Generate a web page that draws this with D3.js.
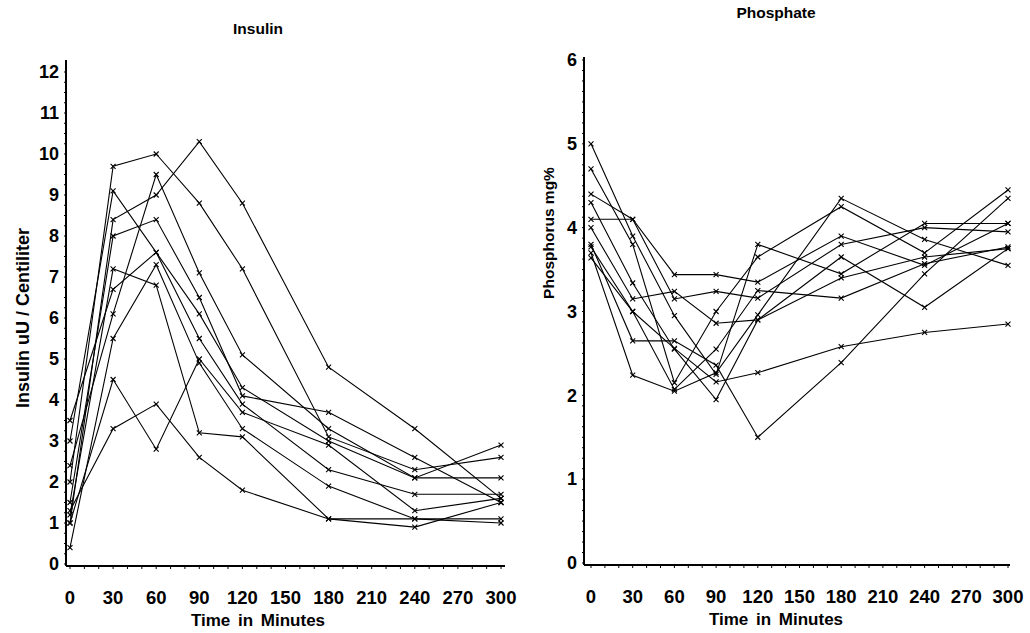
<!DOCTYPE html>
<html>
<head>
<meta charset="utf-8">
<script src="https://cdn.jsdelivr.net/npm/d3@7"></script>
<style>
  body { margin: 0; background: #fff; }
  svg text { font-family: "Liberation Sans", Arial, sans-serif; font-weight: bold; fill: #000; }
</style>
</head>
<body>
<div id="chart"></div>
<script>
// time points shared by both panels
const times = [0, 30, 60, 90, 120, 180, 240, 300];
const xTicks = [0, 30, 60, 90, 120, 150, 180, 210, 240, 270, 300];

// insulin uU / centiliter, one array per subject
const insulin1 = [1.0, 8.4, 9.0, 10.3, 8.8, 4.8, 3.3, 1.6];
const insulin2 = [2.0, 9.7, 10.0, 8.8, 7.2, 3.1, 2.3, 2.6];
const insulin3 = [3.0, 9.1, 7.6, 6.1, 4.3, 3.0, 2.1, 2.1];
const insulin4 = [1.5, 8.0, 8.4, 6.5, 4.1, 3.7, 2.6, 1.5];
const insulin5 = [2.4, 6.1, 9.5, 7.1, 5.1, 3.3, 2.1, 2.9];
const insulin6 = [3.5, 6.7, 7.6, 5.5, 3.9, 2.3, 1.7, 1.7];
const insulin7 = [1.2, 7.2, 6.8, 3.2, 3.1, 1.1, 0.9, 1.5];
const insulin8 = [1.0, 4.5, 2.8, 5.0, 3.7, 2.9, 1.3, 1.6];
const insulin9 = [1.3, 3.3, 3.9, 2.6, 1.8, 1.1, 1.1, 1.0];
const insulin10 = [0.4, 5.5, 7.3, 4.9, 3.3, 1.9, 1.1, 1.1];
const insulinSeries = [insulin1, insulin2, insulin3, insulin4, insulin5,
  insulin6, insulin7, insulin8, insulin9, insulin10];
const insulinTicks = d3.range(0, 13);

// phosphorus mg%, one array per subject
const phos1 = [5.0, 3.9, 2.95, 2.25, 3.8, 3.45, 4.05, 4.05];
const phos2 = [4.7, 3.8, 2.15, 3.0, 3.65, 4.25, 3.7, 4.45];
const phos3 = [4.4, 4.1, 3.44, 3.44, 3.35, 3.9, 3.55, 4.05];
const phos4 = [4.3, 3.34, 2.55, 1.95, 2.9, 3.65, 3.05, 3.75];
const phos5 = [4.1, 4.1, 3.15, 3.24, 3.16, 3.8, 4.0, 3.95];
const phos6 = [4.0, 3.15, 3.24, 2.86, 2.9, 3.4, 3.65, 3.75];
const phos7 = [3.8, 2.65, 2.65, 2.36, 1.5, 2.39, 3.45, 4.35];
const phos8 = [3.77, 3.0, 2.07, 2.55, 3.25, 3.16, 3.57, 3.77];
const phos9 = [3.7, 2.24, 2.05, 2.27, 2.96, 4.35, 3.86, 3.55];
const phos10 = [3.64, 3.0, 2.56, 2.16, 2.27, 2.58, 2.75, 2.85];
const phosSeries = [phos1, phos2, phos3, phos4, phos5,
  phos6, phos7, phos8, phos9, phos10];
const phosTicks = d3.range(0, 7);

const width = 1030, height = 633;

const svg = d3.select("#chart").append("svg")
  .attr("width", width)
  .attr("height", height);

function panel(opts) {
  const x = d3.scaleLinear().domain([0, 300]).range(opts.xRange);
  const y = d3.scaleLinear().domain(opts.yDomain).range(opts.yRange);
  const g = svg.append("g");

  // axis lines
  g.append("line")
    .attr("x1", opts.axisX).attr("x2", opts.axisX)
    .attr("y1", opts.axisBottom).attr("y2", opts.axisTop)
    .attr("stroke", "#000").attr("stroke-width", 2);
  g.append("line")
    .attr("x1", opts.axisX).attr("x2", opts.axisRight)
    .attr("y1", opts.axisBottom).attr("y2", opts.axisBottom)
    .attr("stroke", "#000").attr("stroke-width", 2);

  // minor ticks
  const yMinor = d3.range(opts.yDomain[0], opts.yDomain[1] + 0.001, opts.yMinorStep);
  g.append("g").selectAll("line").data(yMinor).join("line")
    .attr("x1", opts.axisX - 2).attr("x2", opts.axisX)
    .attr("y1", d => y(d)).attr("y2", d => y(d))
    .attr("stroke", "#000").attr("stroke-width", 1);
  g.append("g").selectAll("line").data(d3.range(0, 301, 10)).join("line")
    .attr("x1", d => x(d)).attr("x2", d => x(d))
    .attr("y1", opts.axisBottom).attr("y2", opts.axisBottom + 3)
    .attr("stroke", "#000").attr("stroke-width", 1);

  // tick labels
  g.append("g").selectAll("text").data(opts.yTicks).join("text")
    .attr("x", opts.axisX - 7)
    .attr("y", d => y(d))
    .attr("dy", "0.35em")
    .attr("text-anchor", "end")
    .attr("font-size", 18)
    .text(d => d);
  g.append("g").selectAll("text").data(xTicks).join("text")
    .attr("x", d => x(d))
    .attr("y", opts.axisBottom + 38)
    .attr("text-anchor", "middle")
    .attr("font-size", 18.5)
    .text(d => d);

  // titles
  g.append("text")
    .attr("x", opts.titleX).attr("y", opts.titleY)
    .attr("text-anchor", "middle")
    .attr("font-size", 15.5)
    .text(opts.title);
  g.append("text")
    .attr("x", opts.titleX).attr("y", opts.axisBottom + 60)
    .attr("text-anchor", "middle")
    .attr("font-size", 17)
    .attr("word-spacing", 3)
    .text("Time in Minutes");
  g.append("text")
    .attr("transform", `translate(${opts.yLabelX},${opts.yLabelY}) rotate(-90)`)
    .attr("text-anchor", "middle")
    .attr("font-size", opts.yLabelSize)
    .text(opts.yLabel);

  // series lines with x markers
  const line = d3.line().x((d, i) => x(times[i])).y(d => y(d));
  const s = g.append("g");
  s.selectAll("path").data(opts.series).join("path")
    .attr("d", line)
    .attr("fill", "none")
    .attr("stroke", "#000")
    .attr("stroke-width", 1.1);

  const pts = opts.series.flatMap(arr => arr.map((v, i) => [x(times[i]), y(v)]));
  s.append("g").selectAll("path").data(pts).join("path")
    .attr("d", d => `M${d[0] - 2.5},${d[1] - 2.5}L${d[0] + 2.5},${d[1] + 2.5}M${d[0] - 2.5},${d[1] + 2.5}L${d[0] + 2.5},${d[1] - 2.5}`)
    .attr("stroke", "#000")
    .attr("stroke-width", 1.1);
}

panel({
  title: "Insulin", titleX: 258, titleY: 34,
  yLabel: "Insulin uU / Centiliter", yLabelX: 29, yLabelY: 318, yLabelSize: 18,
  series: insulinSeries, yDomain: [0, 12], yTicks: insulinTicks, yMinorStep: 0.25,
  xRange: [70, 501], yRange: [564, 72],
  axisX: 66, axisRight: 505, axisTop: 60, axisBottom: 566
});

panel({
  title: "Phosphate", titleX: 776, titleY: 18,
  yLabel: "Phosphorus mg%", yLabelX: 554, yLabelY: 233, yLabelSize: 15.5,
  series: phosSeries, yDomain: [0, 6], yTicks: phosTicks, yMinorStep: 0.125,
  xRange: [591, 1008], yRange: [563, 60],
  axisX: 584, axisRight: 1010, axisTop: 57, axisBottom: 565
});
</script>
</body>
</html>
